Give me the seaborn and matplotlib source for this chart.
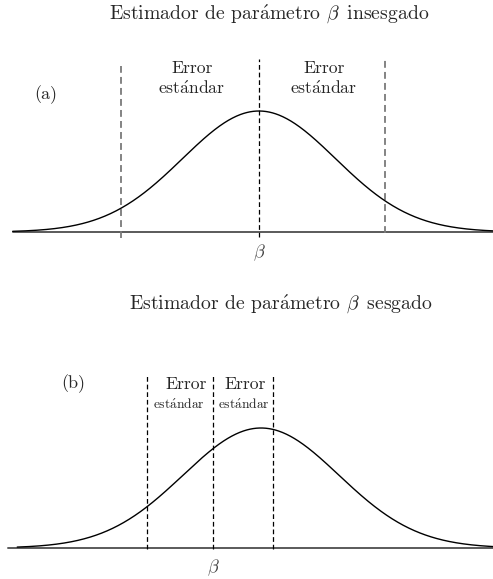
import numpy as np
import pandas as pd
import matplotlib
matplotlib.use("Agg")
import matplotlib.pyplot as plt
import seaborn as sns

sns.set_theme(style="white")
plt.rcParams["font.family"] = ["cmr10", "DejaVu Serif"]
plt.rcParams["mathtext.fontset"] = "cm"
plt.rcParams["axes.unicode_minus"] = False
plt.rcParams["axes.formatter.use_mathtext"] = True

titles = ["Estimador de parámetro $\\beta\\,$ insesgado",
          "Estimador de parámetro $\\beta\\,$ sesgado"]
panel_labels = ["(a)", "(b)"]
se_label = ["Error", "estándar"]
beta_true = [0.0, 0.0]
est_mean = [0.0, 0.615]
est_sd = [1.0, 1.0]
curve_range = [(-3.22, 3.06), (-2.51, 3.59)]
axis_start = [-3.22, -2.63]
# dashed guide positions (standard-error bounds and beta)
guides_a = [-1.8, 0.0, 1.65]
guides_b = [-0.846, 0.0, 0.769]


def tex(s):
    # cmr10 has no precomposed accented letters; build them with mathtext
    return s.replace("á", "$\\acute{\\mathrm{a}}$")


fig = plt.figure(figsize=(4.93, 5.79), dpi=100)
W, H = 493, 579
ax_a = fig.add_axes([0, 1 - 290 / H, 1, 290 / H])
ax_b = fig.add_axes([0, 0, 1, 289 / H])


def normal_pdf(x, m, s):
    return np.exp(-0.5 * ((x - m) / s) ** 2) / (s * np.sqrt(2 * np.pi))


for i, ax in enumerate([ax_a, ax_b]):
    lo, hi = curve_range[i]
    xs = np.linspace(lo, hi, 600)
    df = pd.DataFrame({"x": xs, "y": normal_pdf(xs, est_mean[i], est_sd[i])})
    ax.plot([axis_start[i], 10], [0, 0], color="#5a5a5a", lw=1.4, zorder=1)
    sns.lineplot(data=df, x="x", y="y", ax=ax, color="black", lw=1.0, zorder=3)
    ax.axis("off")

dash = (0, (3.8, 2.3))

# Panel (a): unbiased estimator
ax_a.set_xlim(-259 / 76.5, 234 / 76.5)
ax_a.set_ylim(-(290 - 232) / 303.3, 232 / 303.3)
ax_a.plot([guides_a[0]] * 2, [-0.020, 0.547], color="#7a7a7a", lw=1.3, ls=dash, zorder=2)
ax_a.plot([guides_a[1]] * 2, [-0.017, 0.570], color="black", lw=0.9, ls=dash, zorder=2)
ax_a.plot([guides_a[2]] * 2, [-0.003, 0.570], color="#7a7a7a", lw=1.3, ls=dash, zorder=2)
ax_a.text(0.13, 0.719, tex(titles[0]), ha="center", va="center", fontsize=14.2)
ax_a.text(-2.784, 0.452, panel_labels[0], ha="center", va="center", fontsize=13)
for xc in [-0.876, 0.85]:
    ax_a.text(xc, 0.541, se_label[0], ha="center", va="center", fontsize=12.7)
    ax_a.text(xc, 0.475, tex(se_label[1]), ha="center", va="center", fontsize=12.7)
ax_a.text(beta_true[0], -0.069, "$\\beta$", ha="center", va="center", fontsize=13, color="#444444")

# Panel (b): biased estimator
ax_b.set_xlim(-213 / 78, 280 / 78)
ax_b.set_ylim(-(579 - 548) / 300.8, (548 - 290) / 300.8)
for g in guides_b:
    ax_b.plot([g] * 2, [-0.002, 0.572], color="black", lw=0.9, ls=dash, zorder=2)
ax_b.text(0.872, 0.814, tex(titles[1]), ha="center", va="center", fontsize=14.2)
ax_b.text(-1.795, 0.545, panel_labels[1], ha="center", va="center", fontsize=13)
ax_b.text(-0.346, 0.545, se_label[0], ha="center", va="center", fontsize=12.7)
ax_b.text(-0.436, 0.475, tex(se_label[1]), ha="center", va="center", fontsize=9.7)
ax_b.text(0.41, 0.545, se_label[0], ha="center", va="center", fontsize=12.7)
ax_b.text(0.397, 0.475, tex(se_label[1]), ha="center", va="center", fontsize=9.7)
ax_b.text(beta_true[1], -0.0665, "$\\beta$", ha="center", va="center", fontsize=13, color="#444444")

fig.savefig("out.png", dpi=100)
